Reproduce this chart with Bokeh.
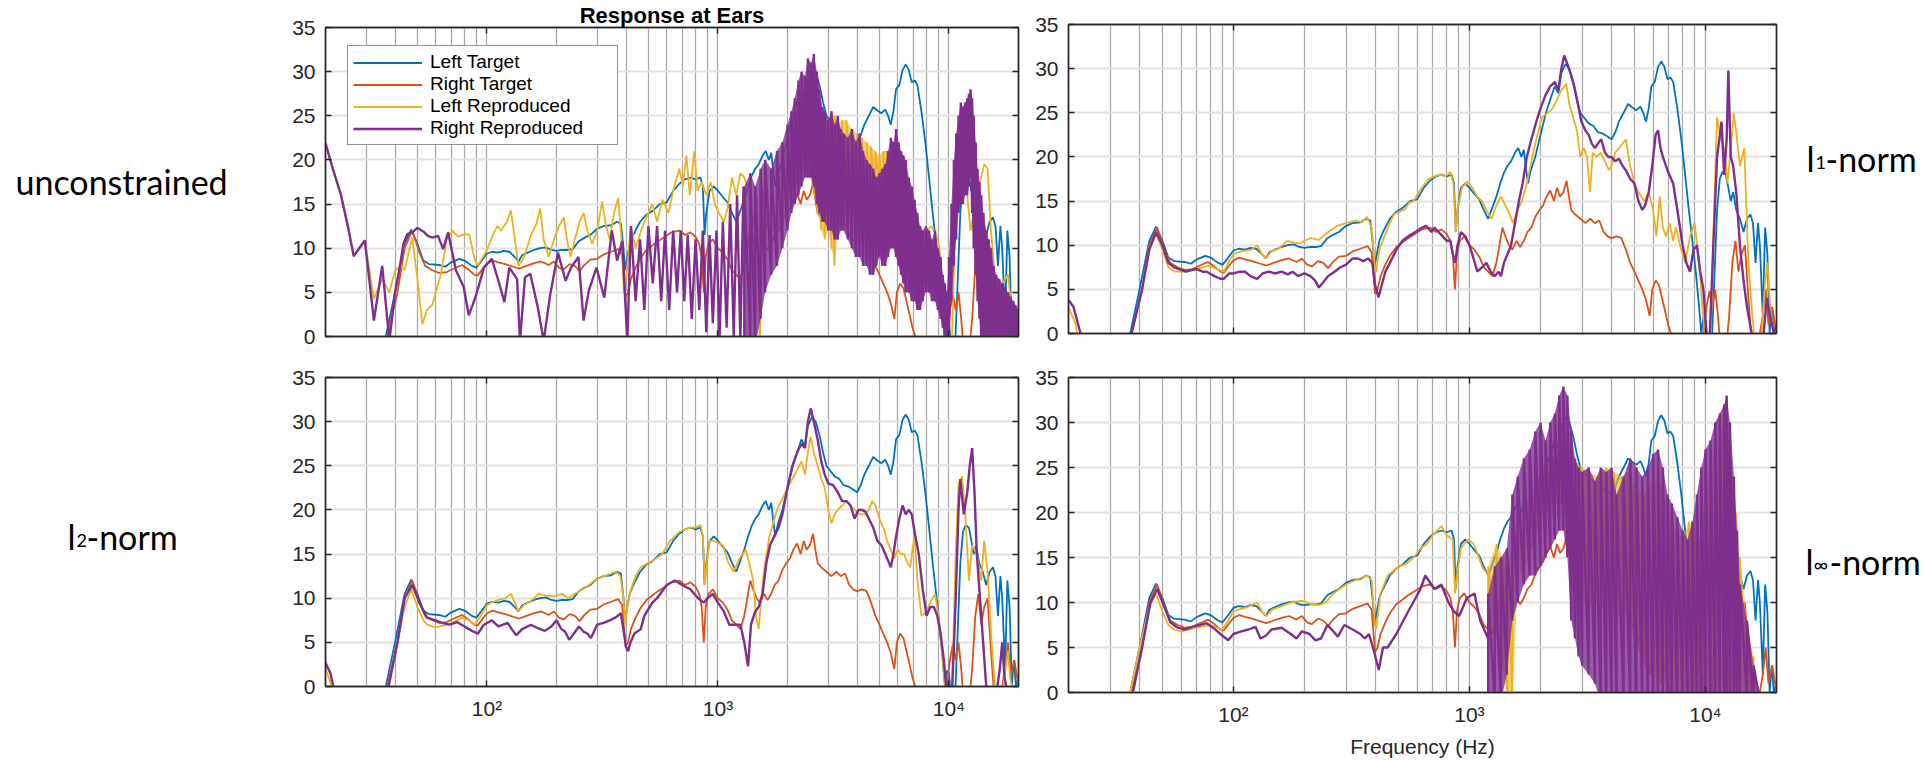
from bokeh.plotting import figure
from bokeh.models import Range1d, FixedTicker, LinearAxis, LogAxis, Label, Legend, LegendItem
from bokeh.layouts import column, row
from bokeh.embed import file_html
from bokeh.resources import INLINE

# ---------------- data (frequency Hz, level dB) ----------------
X_TICKS = [100, 1000, 10000]
X_TICK_LABELS = {100: "10\u00b2", 1000: "10\u00b3", 10000: "10\u2074"}
X_GRID = [30, 40, 50, 60, 70, 80, 90, 100, 200, 300, 400, 500, 600, 700, 800, 900,
          1000, 2000, 3000, 4000, 5000, 6000, 7000, 8000, 9000, 10000]
Y_TICKS = [0, 5, 10, 15, 20, 25, 30, 35]
Y_GRID = [5, 10, 15, 20, 25, 30]
SERIES_NAMES = ["Left Target", "Right Target", "Left Reproduced", "Right Reproduced"]
TITLE = "Response at Ears"
X_LABEL = "Frequency (Hz)"

LEFT_TARGET = [(20, -3), (34, -6), (36.5, 0), (40, 5), (44, 10.5), (47, 12.1), (50, 10.5),
    (53, 8.6), (56, 8.2), (62, 8.1), (66, 7.9), (70, 8.4), (76, 8.8), (80, 8.6), (86, 8.0), (90, 7.8), (95, 8.6),
    (100, 9.4), (105, 9.6), (112, 9.5), (118, 9.7), (125, 9.6), (132, 9.0), (137, 8.5), (142, 9.2), (150, 9.5),
    (160, 9.8), (170, 10.0), (180, 10.1), (190, 9.8), (200, 9.7), (212, 9.8), (225, 9.8), (235, 9.9), (250, 10.8),
    (265, 11.2), (280, 11.5), (300, 12.2), (320, 12.5), (345, 12.6), (365, 13.0), (380, 12.8), (390, 10), (396, 7.5),
    (402, 8.5), (415, 10.5), (430, 11.5), (460, 13.0), (490, 13.8), (520, 14.2), (560, 15.0), (600, 15.2),
    (640, 16.5), (680, 17.3), (720, 17.8), (760, 18.0), (800, 17.8), (840, 18.0), (860, 17), (875, 11.5), (890, 14),
    (920, 16.5), (960, 17.0), (1000, 16.5), (1050, 15.8), (1100, 15.2), (1150, 14.0), (1200, 13.0), (1240, 14.0),
    (1300, 15.5), (1350, 17.0), (1400, 18.2), (1450, 19.0), (1500, 19.5), (1560, 20.5), (1610, 21.0), (1660, 20.0),
    (1700, 20.8), (1740, 18.5), (1770, 17.0), (1820, 18.5), (1900, 20.0), (2000, 22.5), (2100, 24.8), (2200, 26.5),
    (2300, 28.0), (2380, 27.2), (2450, 29.5), (2550, 30.5), (2650, 30.0), (2750, 28.5), (2850, 26.5), (2950, 25.0),
    (3050, 24.5), (3200, 23.8), (3350, 23.5), (3500, 22.8), (3700, 22.6), (3900, 22.2), (4000, 22.0), (4150, 22.8),
    (4300, 24.0), (4500, 25.0), (4700, 26.0), (4900, 25.6), (5100, 25.3), (5300, 25.7), (5450, 25.0), (5600, 24.0),
    (5750, 25.5), (5900, 28.0), (6100, 28.5), (6300, 30.2), (6500, 30.8), (6700, 30.2), (6900, 28.8), (7100, 29.0),
    (7300, 28.5), (7600, 25.5), (7900, 22), (8200, 18), (8500, 14), (8800, 10.5), (9100, 7), (9400, 3), (9600, 0),
    (9800, 1.8), (10000, 1.5), (10200, -1), (10600, -2), (10900, 6), (11200, 14), (11500, 17.5), (11800, 18.3),
    (12200, 18.0), (12500, 16.5), (12800, 15.0), (13100, 16), (13500, 14.0), (14000, 13.0), (14500, 11.5),
    (15000, 13.0), (15500, 13.5), (15900, 12.5), (16300, 8), (16700, 12.5), (17000, 10), (17500, 2), (17900, 12.0),
    (18300, 9), (18700, 0), (19100, 3), (19500, 0), (20000, 1)]

RIGHT_TARGET = [(20, -3), (35, -6), (37, 0), (41, 5), (44, 10), (47.5, 12.0), (51, 9.5), (54, 8.0),
    (58, 7.5), (62, 7.2), (67, 7.3), (72, 7.7), (78, 8.1), (83, 7.6), (88, 7.0), (91, 6.9), (96, 7.7), (100, 8.3),
    (106, 8.6), (112, 8.4), (120, 8.2), (130, 7.9), (138, 7.7), (148, 8.0), (160, 8.3), (172, 8.5), (185, 8.1),
    (195, 8.5), (205, 7.8), (215, 7.6), (228, 8.2), (240, 8.0), (252, 7.4), (262, 8.0), (280, 8.7), (300, 8.8),
    (320, 9.3), (345, 9.6), (370, 9.9), (385, 9.2), (398, 4.5), (408, 5.0), (420, 6.5), (440, 7.8), (460, 8.8),
    (490, 9.8), (520, 10.3), (550, 10.8), (590, 11.3), (630, 11.8), (680, 12.0), (720, 11.5), (760, 11.8),
    (800, 11.3), (830, 10.5), (850, 9.0), (868, 5.0), (885, 9.0), (910, 10.5), (950, 11.0), (1000, 10.0),
    (1050, 9.5), (1100, 8.7), (1150, 7.5), (1200, 7.0), (1250, 6.5), (1300, 8.0), (1340, 10.0), (1380, 12.0),
    (1420, 11.0), (1470, 10.0), (1520, 9.5), (1580, 10.5), (1640, 9.8), (1700, 10.5), (1760, 11.5), (1830, 12.0),
    (1900, 13.2), (1980, 14.0), (2050, 14.5), (2120, 15.5), (2200, 16.2), (2280, 15.0), (2350, 16.5), (2420, 15.5),
    (2500, 16.0), (2580, 17.3), (2640, 15.5), (2700, 14.0), (2800, 13.5), (2950, 13.0), (3100, 12.5), (3250, 13.0),
    (3400, 12.5), (3550, 12.8), (3700, 11.5), (3850, 11.0), (4000, 10.8), (4200, 11.0), (4400, 10.8), (4600, 9.5),
    (4800, 8.0), (5000, 7.0), (5200, 6.0), (5400, 5.0), (5600, 3.8), (5800, 2.0), (5950, 5.0), (6150, 6.0),
    (6350, 5.5), (6550, 4.0), (6750, 2.5), (6950, 1.0), (7150, 0), (7350, -3), (9500, -3), (9800, 0), (10100, 3),
    (10400, 4.8), (10700, 3.0), (11000, 5.0), (11300, 2.0), (11600, -2), (12200, -2), (12600, 2), (13000, 8.0),
    (13400, 10.5), (13800, 7.0), (14200, 9), (14700, 10.0), (15200, 4.0), (15600, 0), (16500, -2), (17500, 2),
    (18000, 5), (18500, 1), (19200, 3), (20000, 0)]

# unconstrained
UC_LEFT_REPRO = [(20, 21.8), (23.3, 16.1), (26.5, 9.1), (29.6, 10.8), (32.4, 4.3), (35.2, 6.5), (37.8, 5.0), (40, 7.5),
    (42.5, 8.0), (44, 7.5), (47.5, 11.2), (50, 6.5), (52.5, 1.4), (55, 3.0), (58, 3.6), (63, 7.0), (67, 11.0),
    (71, 12.0), (75, 11.3), (80, 11.6), (84, 11.5), (88, 9.0), (91, 8.0), (96, 9.0), (100, 9.8), (106, 11.5),
    (111, 12.5), (115, 12.0), (122, 13.0), (127, 14.3), (132, 11.0), (137, 8.0), (145, 9.0), (155, 11.5),
    (164, 12.8), (170, 14.5), (176, 11.0), (185, 9.0), (195, 11.0), (205, 12.5), (215, 13.5), (222, 11.0),
    (230, 9.0), (240, 11.0), (252, 13.0), (262, 14.0), (272, 12.0), (285, 10.5), (300, 12.0), (315, 15.3),
    (328, 12.5), (340, 11.0), (355, 14.0), (370, 15.7), (382, 11.0), (392, 5.0), (402, 7.0), (420, 12.5),
    (440, 10.0), (465, 12.0), (490, 13.5), (520, 15.0), (545, 13.0), (575, 15.5), (610, 14.0), (640, 16.5),
    (680, 19.0), (705, 17.0), (730, 20.5), (755, 16.0), (790, 21.0), (815, 16.5), (850, 17.5), (890, 16.0),
    (930, 17.5), (970, 15.0), (1010, 14.0), (1060, 13.0), (1100, 14.5), (1150, 18.0), (1200, 16.0), (1250, 18.5),
    (1300, 18.0), (1360, 16.5), (1420, 12.5), (1470, 16.0), (1520, -0.5), (1560, 17.0), (1620, 12.0), (1700, 15.0),
    (1800, 13.0)]
UC_LEFT_REPRO_BAND = [(1800, 12, 17), (1900, 13, 20), (2000, 15, 22.5), (2100, 16, 24), (2200, 17, 25.5),
    (2300, 18, 26.5), (2400, 19, 28), (2500, 18, 29), (2600, 16, 27.5), (2700, 14, 26.5), (2800, 12, 26),
    (2900, 11, 25), (3000, 12, 24), (3100, 10, 25.5), (3200, 8, 25), (3300, 12, 24), (3450, 14, 24.5),
    (3600, 14, 24.5), (3800, 15, 23.5), (4000, 14, 23), (4200, 14, 22.5), (4400, 13, 22), (4600, 15, 21.5),
    (4800, 16, 21), (5000, 17, 20.5), (5200, 14, 21), (5400, 12, 21), (5600, 10, 20), (5800, 13, 19.5),
    (6000, 14, 19), (6200, 10, 18), (6400, 9, 18), (6600, 10, 17), (6800, 9, 16), (7000, 8, 15), (7200, 7.5, 13),
    (7400, 8, 12)]
UC_LEFT_REPRO_END = [(7400, 10), (7700, 11.5), (8000, 12.0), (8400, 12.5), (8800, 11.5), (9100, 10.0), (9400, 5.0),
    (9700, -0.5), (10300, -0.5), (10700, 15), (11000, 22), (11300, 25.5), (11600, 23), (12000, 16), (12400, 12),
    (12800, 14), (13500, 17), (14200, 19.5), (14700, 19), (15200, 12), (16000, 5), (17000, 6), (18000, 7),
    (18700, 3), (19500, -0.5), (20000, 1)]
UC_RIGHT_REPRO = [(20, 21.9), (21.5, 19.0), (23.3, 16.1), (25, 12.5), (26.5, 9.1), (28, 10.0), (29.6, 10.9),
    (32.4, 1.8), (35.2, 8.0), (37.8, -0.5), (40, 5.0), (41.9, 7.8), (43.5, 10.5), (45.2, 11.6), (47.5, 11.8),
    (50, 12.3), (53, 11.9), (55.5, 11.4), (58, 11.2), (61.4, 11.4), (64.6, 9.9), (67.9, 11.8), (73.4, 7.5),
    (79.3, 5.6), (83.4, 2.4), (86.5, 3.5), (90, 4.8), (97, 7.8), (105, 8.8), (113, 6.0), (119, 3.9), (125, 7.8),
    (135, 6.5), (139, -0.5), (146, 6.7), (154, 7.1), (166, 3.3), (176, -0.5), (188, 4.8), (203, 9.5), (219, 6.3),
    (231, 7.8), (249, 9.0), (262, 1.8), (276, 5.2), (298, 7.8), (322, 4.4), (347, 12.0), (366, 8.6), (385, 10.8),
    (405, -0.5), (420, 12.5), (440, 4.0), (460, 11.0), (480, 3.0), (500, 12.5), (522, 6.0), (545, 12.5), (568, 4.0),
    (590, 12.0), (615, 3.0), (640, 12.0), (665, 5.0), (690, 12.0), (715, 4.0), (740, 11.5), (770, 2.0), (800, 11.0),
    (830, 3.0), (860, 12.0), (890, 0.5), (920, 11.5), (950, 1.5), (985, 12.0), (1015, -0.5), (1050, 13.0),
    (1090, 1.0), (1130, 15.0), (1170, 0.0), (1210, 16.0), (1250, -0.5), (1290, 17.0)]
UC_RIGHT_REPRO_BAND = [(1300, -1, 17), (1380, 0, 18.5), (1450, -1, 17), (1530, 2, 19), (1600, 5, 20), (1700, 7, 19),
    (1800, 8, 21), (1900, 10, 22), (2000, 12, 24), (2080, 14, 25.5), (2150, 15, 27), (2230, 16, 29), (2300, 17, 30),
    (2380, 18, 29.5), (2450, 18, 31.5), (2530, 18, 31), (2600, 17, 32), (2680, 15, 30), (2750, 14, 28),
    (2830, 13, 26), (2900, 13, 25.5), (3000, 12, 24.5), (3100, 12, 25.5), (3200, 11, 24), (3300, 11, 25),
    (3400, 12, 23.5), (3500, 12, 23), (3650, 11, 22.5), (3800, 10, 23.5), (3950, 9, 22), (4100, 9, 23),
    (4250, 8, 21), (4400, 8, 20), (4550, 7, 19.5), (4700, 7, 19), (4850, 8, 18), (5000, 9, 18.5), (5150, 8, 19),
    (5300, 8, 19.5), (5450, 9, 21), (5600, 10, 22.5), (5750, 10, 22), (5900, 9, 23.5), (6050, 8, 22),
    (6200, 7, 21), (6350, 6, 20.5), (6500, 5, 20), (6700, 5, 18), (6900, 4, 17), (7100, 4, 15.5), (7300, 3, 14),
    (7500, 3, 12.5), (7700, 4, 12), (7950, 5, 12.5), (8200, 5, 12), (8450, 4, 11), (8700, 4, 12), (8950, 3, 10),
    (9200, 2, 9), (9400, 1, 7), (9600, -1, 6), (9800, -1, 5), (10000, -1, 9), (10250, 4, 15), (10500, 8, 20),
    (10750, 11, 23), (11000, 14, 25), (11250, 15, 26.5), (11500, 15, 26), (11750, 16, 26.5), (12000, 16, 27),
    (12200, 17, 27.5), (12400, 18, 28), (12600, 14, 27), (12800, 10, 25), (13050, 7, 22), (13300, 4, 19),
    (13550, 2, 17.5), (13800, -1, 16), (14100, -1, 14), (14500, -1, 12), (14850, -1, 11), (15200, -1, 10),
    (15600, -1, 8), (16000, -1, 7), (16500, -1, 6.5), (17000, -1, 6), (17500, -1, 5.5), (18000, -1, 5),
    (18500, -1, 4.5), (19000, -1, 4), (19500, -1, 3.5), (20000, -1, 3)]

# l1-norm
L1_LEFT_REPRO = [(20, 3.0), (21.5, 1.0), (22.5, -3), (35, -3), (37, 0), (41, 5), (44, 9.5), (47, 11.3), (50, 9.5),
    (53, 7.5), (56.5, 7.0), (62, 7.0), (68, 7.2), (74, 7.5), (79, 7.7), (85, 7.3), (91, 7.0), (96, 8.2), (100, 9.0),
    (108, 9.3), (119, 9.5), (126, 10.0), (132, 9.0), (137, 8.5), (145, 9.3), (155, 9.6), (169, 10.5), (180, 10.3),
    (192, 10.2), (200, 10.5), (212, 10.8), (230, 10.6), (252, 11.5), (275, 12.2), (300, 12.5), (330, 12.8),
    (350, 12.6), (368, 13.2), (385, 12.0), (396, 8.0), (402, 7.0), (415, 9.5), (436, 11.0), (460, 12.5),
    (479, 13.5), (505, 13.8), (530, 14.0), (555, 14.8), (580, 15.0), (610, 16.0), (640, 16.8), (670, 17.5),
    (710, 17.8), (750, 18.0), (790, 17.8), (830, 18.3), (855, 17.0), (875, 11.5), (890, 14.0), (930, 16.5),
    (980, 17.2), (1030, 16.5), (1080, 15.5), (1130, 15.0), (1180, 14.0), (1240, 13.0), (1300, 14.5), (1360, 15.5),
    (1420, 14.5), (1480, 13.5), (1530, 12.5), (1600, 14.0), (1670, 15.0), (1750, 17.0), (1830, 19.5), (1920, 22.0),
    (2030, 24.5), (2150, 25.0), (2250, 25.5), (2350, 26.5), (2450, 27.5), (2570, 28.3), (2650, 26.0), (2750, 24.5),
    (2850, 23.0), (2950, 20.0), (3050, 21.0), (3150, 20.0), (3240, 16.0), (3330, 20.5), (3450, 20.0), (3600, 20.5),
    (3750, 19.5), (3900, 18.5), (4000, 19.0), (4150, 20.5), (4300, 21.0), (4450, 21.5), (4600, 22.0), (4750, 19.5),
    (5000, 17.0), (5200, 16.0), (5500, 15.0), (5750, 16.0), (6000, 14.0), (6200, 11.0), (6400, 15.5), (6600, 12.0),
    (6800, 11.0), (7050, 12.5), (7300, 10.5), (7500, 12.0), (7800, 10.0), (8200, 8.0), (8600, 11.0), (9000, 12.5),
    (9400, 8.0), (9700, 3.0), (10000, -1), (10500, -1), (10900, 15), (11200, 24.5), (11600, 22.0), (12000, 21.0),
    (12400, 17.0), (12800, 21.0), (13200, 25.0), (13600, 22.0), (14000, 19.0), (14600, 21.0), (15200, 8.0),
    (15800, 2.0), (16200, -1), (17200, -1), (17800, 5), (18300, 8), (18800, 3), (19500, 0), (20000, 1)]
L1_RIGHT_REPRO = [(20, 3.8), (21, 3.0), (22.5, 0), (23.5, -3), (35, -3), (37, 0), (41, 5), (44, 9.5), (47, 11.5),
    (50, 10.0), (53, 8.0), (56, 7.5), (60, 7.2), (63, 7.0), (67, 7.2), (70, 7.3), (74, 7.0), (77, 7.0), (83, 6.5),
    (88, 6.2), (91, 6.2), (96, 6.8), (100, 6.8), (106, 7.0), (112, 7.0), (118, 6.5), (126, 6.2), (133, 6.8),
    (141, 7.0), (150, 6.8), (160, 7.0), (170, 6.7), (178, 7.0), (188, 6.5), (200, 6.8), (212, 6.5), (222, 6.0),
    (230, 5.2), (240, 5.8), (252, 6.5), (268, 7.0), (284, 7.5), (300, 7.8), (320, 8.5), (337, 8.5), (355, 8.2),
    (372, 8.5), (388, 8.0), (398, 5.5), (412, 4.1), (425, 5.5), (440, 7.0), (460, 8.0), (490, 9.5), (520, 10.5),
    (550, 11.0), (590, 11.5), (630, 12.0), (655, 12.2), (690, 11.5), (710, 12.0), (740, 11.5), (770, 11.0),
    (800, 10.5), (830, 10.5), (850, 9.0), (870, 8.0), (890, 10.0), (920, 11.5), (960, 11.0), (1000, 10.0),
    (1040, 8.5), (1080, 7.0), (1130, 7.5), (1180, 8.0), (1230, 7.0), (1280, 6.5), (1330, 7.0), (1360, 6.5),
    (1400, 8.0), (1450, 9.0), (1500, 10.0), (1560, 12.5), (1620, 15.0), (1680, 17.0), (1750, 20.0), (1830, 22.0),
    (1920, 24.0), (2000, 25.5), (2100, 27.0), (2200, 28.0), (2300, 28.5), (2380, 27.5), (2450, 30.0), (2520, 31.5),
    (2600, 30.5), (2680, 29.5), (2780, 28.0), (2880, 26.0), (2980, 24.0), (3100, 23.0), (3200, 22.5), (3300, 21.5),
    (3400, 21.0), (3500, 21.5), (3620, 22.0), (3750, 20.5), (3880, 20.0), (4000, 20.0), (4150, 19.5), (4300, 19.8),
    (4450, 19.0), (4600, 18.5), (4800, 17.5), (5000, 17.0), (5200, 15.0), (5400, 14.0), (5550, 14.5), (5750, 16.0),
    (5950, 19.0), (6150, 22.5), (6300, 23.0), (6450, 21.0), (6600, 20.0), (6900, 18.5), (7300, 17.0), (7700, 13.0),
    (8000, 10.0), (8300, 8.0), (8600, 7.0), (8900, 9.5), (9200, 10.0), (9500, 7.0), (9800, 5.0), (10100, 0),
    (10400, -1), (10800, 10), (11200, 20), (11700, 24.0), (12000, 18.0), (12300, 22), (12500, 29.8), (12800, 20.0),
    (13100, 19.0), (13500, 16.0), (14000, 10.0), (14500, 6.0), (15000, 3.0), (15700, 0), (16500, -1), (17500, -1),
    (18200, 4), (18800, 2), (19500, 0), (20000, 1)]

# l2-norm
L2_LEFT_REPRO = [(20, 2.0), (21, 0.5), (22, -3), (35, -3), (37.5, 0), (41, 5), (44, 9.0), (47, 11.0), (50, 9.0),
    (53, 7.5), (55, 7.0), (60, 6.7), (67.5, 7.0), (72, 7.3), (78, 7.8), (83, 7.5), (88.5, 7.0), (94, 8.0),
    (100, 9.2), (104, 9.5), (112, 9.8), (120, 10.0), (127, 10.5), (132, 9.5), (137, 8.5), (144, 9.2), (151, 9.5),
    (160, 10.0), (167, 10.5), (180, 10.3), (195, 10.2), (211, 10.5), (225, 10.0), (240, 10.5), (260, 11.0),
    (293, 12.0), (320, 12.5), (345, 12.8), (360, 13.0), (378, 12.5), (390, 10), (396, 7.0), (405, 9.0),
    (420, 11.0), (440, 12.5), (463, 13.5), (500, 14.0), (540, 14.5), (574, 15.0), (620, 16.5), (680, 17.5),
    (720, 17.8), (760, 18.0), (800, 18.0), (840, 18.3), (860, 17.0), (878, 11.5), (895, 14.0), (920, 16.5),
    (950, 16.5), (1000, 16.3), (1050, 16.0), (1110, 14.0), (1170, 13.0), (1240, 14.5), (1320, 15.5), (1380, 13.5),
    (1420, 12.0), (1460, 8.0), (1500, 6.5), (1540, 10), (1580, 13.0), (1670, 17.0), (1800, 20.0), (1920, 21.5),
    (2000, 22.5), (2100, 23.5), (2200, 24.5), (2300, 25.5), (2380, 24.0), (2450, 26.5), (2520, 28.3), (2600, 26.5),
    (2700, 25.0), (2800, 23.5), (2900, 22.5), (3000, 20.0), (3100, 18.5), (3200, 19.5), (3300, 20.0), (3450, 20.5),
    (3600, 21.0), (3750, 20.5), (3900, 20.0), (4100, 19.5), (4300, 19.5), (4500, 20.0), (4650, 21.0), (4800, 20.5),
    (5000, 19.0), (5200, 18.0), (5400, 16.5), (5600, 15.5), (5800, 14.5), (6000, 15.5), (6200, 15.0), (6400, 15.0),
    (6600, 14.0), (6800, 13.5), (6950, 15.5), (7100, 17.0), (7300, 12), (7600, 8), (8000, 8.5), (8300, 9.5),
    (8700, 10.5), (9000, 8), (9400, 3.0), (9700, -1), (10300, -1), (10700, 15), (11000, 23.0), (11400, 23.8),
    (11800, 19), (12200, 12), (12600, 16), (13200, 15), (13800, 12), (14200, 16.5), (14700, 13), (15300, 5),
    (15900, -1), (17000, -1), (17600, 2), (18000, 4), (18400, 1), (19000, -1), (20000, 0)]
L2_RIGHT_REPRO = [(20, 2.7), (21, 1.5), (22.5, -2), (35, -2), (37.5, 0), (41, 5), (44, 10), (47.5, 11.5), (51, 9.5),
    (55, 7.8), (60, 7.5), (64, 7.2), (69, 7.0), (74, 7.3), (80, 6.8), (86, 6.3), (91.5, 6.0), (97, 7.0), (105, 7.5),
    (112, 6.8), (123, 7.2), (128, 6.5), (134, 5.8), (142, 6.5), (155, 7.0), (166, 6.6), (178, 6.3), (190, 6.8),
    (200, 7.5), (210, 6.5), (218, 6.2), (227, 5.3), (238, 6.0), (250, 6.8), (262, 6.2), (272, 6.0), (282, 5.5),
    (300, 7.0), (320, 7.2), (340, 7.5), (360, 7.8), (380, 8.3), (392, 6.0), (400, 4.5), (408, 4.0), (418, 5.0),
    (435, 6.0), (463, 6.5), (480, 8.0), (520, 9.5), (545, 10.0), (600, 11.5), (650, 12.0), (700, 11.5), (760, 11.0),
    (820, 10.0), (870, 9.5), (900, 10.0), (950, 10.5), (1000, 9.5), (1060, 8.5), (1120, 7.0), (1190, 7.0),
    (1250, 7.0), (1300, 5.0), (1350, 2.3), (1390, 7.0), (1450, 8.5), (1500, 9.0), (1560, 10.5), (1620, 14.0),
    (1680, 16.0), (1750, 17.0), (1830, 18.0), (1900, 19.5), (2000, 22.5), (2100, 25.0), (2200, 26.5), (2300, 27.5),
    (2380, 27.0), (2450, 30.0), (2520, 31.5), (2600, 30.0), (2700, 28.0), (2800, 25.5), (2900, 24.0), (3000, 23.0),
    (3150, 22.8), (3300, 22.0), (3450, 21.0), (3600, 21.0), (3750, 20.5), (3900, 19.0), (4050, 20.0), (4200, 20.0),
    (4350, 19.8), (4500, 19.0), (4700, 18.0), (4900, 16.5), (5100, 16.0), (5300, 15.0), (5500, 14.0), (5600, 13.5),
    (5750, 15.0), (5900, 17.0), (6100, 19.0), (6300, 20.5), (6500, 19.5), (6700, 20.0), (6900, 19.5), (7100, 17.5),
    (7400, 15.0), (7700, 11.0), (8000, 8.0), (8300, 9.0), (8600, 9.0), (8900, 8.0), (9200, 6.0), (9500, 3.0),
    (9800, -1), (10300, -1), (10700, 10), (11000, 20.0), (11200, 23.5), (11600, 19.5), (12000, 22.0), (12300, 25.0),
    (12600, 27.0), (12900, 22.0), (13200, 15.0), (13800, 8.0), (14500, 0), (15000, -1), (16000, -1), (16600, 2),
    (17000, 5.0), (17400, 1), (18000, -1), (20000, -1)]

# linf-norm
LI_LEFT_REPRO = [(20, -3), (35.5, -3), (36.5, 0), (40, 5), (44, 9.5), (47, 11.0), (50, 9.0), (53, 7.5), (56, 7.0),
    (60, 6.8), (65, 7.0), (72, 7.3), (80, 7.5), (85, 7.2), (90, 7.0), (95, 8.0), (100, 9.0), (108, 9.3), (115, 9.5),
    (126, 10.0), (132, 9.0), (138, 8.5), (146, 9.2), (160, 9.6), (175, 10.0), (195, 10.2), (215, 9.8), (230, 9.7),
    (246, 10.0), (265, 11.0), (300, 12.0), (330, 12.5), (368, 13.0), (385, 12.5), (396, 8.0), (402, 7.0),
    (420, 11.0), (450, 13.0), (500, 14.0), (540, 14.3), (580, 15.0), (620, 16.0), (660, 16.5), (700, 17.5),
    (760, 18.5), (800, 17.5), (850, 17.0), (868, 11.0), (885, 13.0), (920, 16.0), (950, 16.5), (990, 17.0),
    (1040, 16.5), (1080, 15.5), (1130, 14.0), (1200, 13.0)]
LI_LEFT_REPRO_BAND = [(1200, 8, 14), (1300, 6, 16.5), (1380, 3, 15), (1450, -1, 14), (1520, -1, 16), (1600, 12, 19),
    (1700, 14, 20), (1800, 15, 21.5), (1900, 17, 23), (2000, 19, 24.5), (2100, 20, 25.5), (2250, 21, 26),
    (2400, 21, 27), (2550, 20, 28.5), (2700, 15, 27), (2850, 12, 25.5), (3000, 10, 25), (3200, 9.5, 24.5),
    (3500, 10, 24), (3800, 9, 25), (4100, 10, 24.5), (4400, 8, 24), (4700, 9, 24.5), (5000, 6, 23), (5500, 3, 22),
    (6000, 2, 24), (6500, 1, 23), (7000, 1, 20), (7500, -1, 18), (8000, -1, 17), (8500, -1, 19), (9000, -1, 18),
    (9500, -1, 17), (10000, -1, 22), (10500, -1, 25), (11000, -1, 27), (11500, -1, 29), (12000, -1, 30),
    (12500, -1, 28), (13000, -1, 24), (13500, -1, 20), (14000, -1, 15), (15000, -1, 8), (16000, -1, 4)]
LI_RIGHT_REPRO = [(20, -3), (36, -3), (37.5, 0), (41, 5), (44.5, 10), (47.5, 11.5), (51, 9.5), (54, 7.8), (58, 7.2),
    (62, 7.0), (67, 7.3), (72, 7.5), (77, 7.7), (82, 7.2), (88, 6.5), (95, 5.8), (100, 6.5), (108, 6.8), (116, 7.0),
    (124, 7.3), (130, 6.0), (137, 6.3), (145, 7.0), (160, 7.2), (175, 6.5), (185, 6.0), (195, 6.8), (210, 6.5),
    (222, 5.8), (235, 6.0), (250, 7.5), (265, 6.8), (277, 6.2), (295, 7.5), (320, 7.0), (345, 6.5), (360, 6.0),
    (375, 6.5), (390, 5.0), (413, 2.5), (430, 5.0), (450, 5.0), (490, 6.5), (550, 9.0), (620, 11.5), (650, 13.0),
    (710, 11.5), (760, 12.0), (815, 10.0), (860, 9.0), (905, 8.5), (975, 10.5), (1050, 11.0), (1110, 8.0),
    (1200, 6.0)]
LI_RIGHT_REPRO_BAND = [(1200, -1, 11), (1280, -1, 14), (1360, -1, 15), (1440, 2, 16), (1520, 8, 22), (1600, 10, 24),
    (1700, 12, 26), (1800, 13, 27), (1900, 13, 29), (2000, 14, 30), (2100, 15, 28), (2200, 16, 30), (2300, 17, 31),
    (2400, 18, 33), (2500, 18, 34), (2600, 15, 33), (2700, 8, 29), (2800, 6, 26), (2900, 4, 25), (3000, 3, 24.5),
    (3200, 2, 25), (3400, 1, 23.5), (3600, -1, 25), (3800, -1, 24.5), (4000, -1, 25), (4200, -1, 22), (4500, -1, 24),
    (4800, -1, 26), (5100, -1, 25), (5400, -1, 24), (5700, -1, 25), (6000, -1, 26.5), (6300, -1, 27), (6600, -1, 25),
    (6900, -1, 22), (7200, -1, 21), (7600, -1, 19.5), (8000, -1, 18), (8400, -1, 17), (8800, -1, 19), (9200, -1, 22),
    (9600, -1, 25), (10000, -1, 27), (10500, -1, 28), (11000, -1, 30), (11500, -1, 31), (12000, -1, 32),
    (12300, -1, 33), (12700, -1, 30), (13200, -1, 24), (13600, -1, 18), (14000, -1, 12), (15000, -1, 8),
    (16000, -1, 3), (17000, -1, 0)]

# ---------------- styling ----------------
BLUE, ORANGE, YELLOW, PURPLE = "#0072BD", "#D95319", "#EDB120", "#7E2F8E"
AX = "#262626"
LW, PW = 1.8, 2.4


def xs(pairs):
    return [p[0] for p in pairs]


def ys(pairs):
    return [p[1] for p in pairs]


def style_axis(ax, labels, ticks):
    ax.axis_line_color = AX
    ax.axis_line_width = 1.4
    ax.major_tick_line_color = AX
    ax.major_tick_line_width = 1.4
    ax.major_tick_in = 6
    ax.major_tick_out = 0
    ax.minor_tick_line_color = None
    ax.major_label_text_font = "Liberation Sans"
    ax.major_label_text_color = AX
    if labels is None:
        ax.major_label_overrides = {t: "" for t in ticks}
        ax.major_label_text_font_size = "0px"
        ax.major_label_standoff = 0
    else:
        if labels:
            ax.major_label_overrides = labels
        ax.major_label_text_font_size = "21px"
        ax.major_label_standoff = 10


def panel(width, height, left, right, top, bottom, show_x):
    p = figure(width=width, height=height, x_axis_type="log",
               x_range=Range1d(20, 20000), y_range=Range1d(0, 35),
               output_backend="svg", toolbar_location=None,
               min_border_left=left, min_border_right=right,
               min_border_top=top, min_border_bottom=bottom)
    p.outline_line_color = AX
    p.outline_line_width = 1.4
    p.xaxis.ticker = FixedTicker(ticks=X_TICKS)
    p.yaxis.ticker = FixedTicker(ticks=Y_TICKS)
    style_axis(p.xaxis[0], X_TICK_LABELS if show_x else None, X_TICKS)
    style_axis(p.yaxis[0], {}, Y_TICKS)
    ra = LinearAxis(ticker=FixedTicker(ticks=Y_TICKS))
    style_axis(ra, None, Y_TICKS)
    p.add_layout(ra, "right")
    ta = LogAxis(ticker=FixedTicker(ticks=X_TICKS))
    style_axis(ta, None, X_TICKS)
    p.add_layout(ta, "above")
    p.xgrid.ticker = FixedTicker(ticks=X_GRID)
    p.xgrid.grid_line_color = "#a9a9a9"
    p.xgrid.grid_line_width = 1.3
    p.ygrid.ticker = FixedTicker(ticks=Y_GRID)
    p.ygrid.grid_line_color = "#e2e2e2"
    p.ygrid.grid_line_width = 2
    return p


def blank(width, height):
    p = figure(width=width, height=height, x_range=Range1d(0, 1), y_range=Range1d(0, 1),
               output_backend="svg", toolbar_location=None,
               x_axis_location=None, y_axis_location=None,
               min_border_left=0, min_border_right=0, min_border_top=0, min_border_bottom=0)
    p.grid.visible = False
    p.outline_line_color = None
    return p


def line(p, pairs, color, w=LW):
    return p.line(xs(pairs), ys(pairs), line_color=color, line_width=w)


def dense(p, triples, color, w, fill_alpha):
    # dense oscillation: envelope area plus one stroke from lower to upper envelope at every read frequency
    f = [t[0] for t in triples]
    lo = [t[1] for t in triples]
    hi = [t[2] for t in triples]
    p.varea(x=f, y1=lo, y2=hi, fill_color=color, fill_alpha=fill_alpha)
    fx, fy = [], []
    for a, b, c in triples:
        fx += [a, a]
        fy += [b, c]
    return p.line(fx, fy, line_color=color, line_width=w, line_join="miter")


def text(p, x, y, s, size, font="Lato", style="normal", align="left", color="#000000"):
    p.add_layout(Label(x=x, y=y, x_units="screen", y_units="screen", text=s,
                       text_font=font, text_font_size=f"{size}px", text_font_style=style,
                       text_color=color, text_align=align, text_baseline="alphabetic"))


# top-left: unconstrained
tl = panel(743, 355, 45, 5, 27, 19, False)
tl.title.text = TITLE
tl.title.align = "center"
tl.title.text_font = "Liberation Sans"
tl.title.text_font_size = "22px"
tl.title.text_font_style = "bold"
tl.title.text_color = "#000000"
tl.title.standoff = 0
rb = line(tl, LEFT_TARGET, BLUE)
ro = line(tl, RIGHT_TARGET, ORANGE)
ry = line(tl, UC_LEFT_REPRO, YELLOW)
dense(tl, UC_LEFT_REPRO_BAND, YELLOW, LW, 0.6)
line(tl, UC_LEFT_REPRO_END, YELLOW)
rp = line(tl, UC_RIGHT_REPRO, PURPLE, PW)
dense(tl, UC_RIGHT_REPRO_BAND, PURPLE, PW, 0.8)
legend = Legend(items=[LegendItem(label=SERIES_NAMES[0], renderers=[rb]),
                       LegendItem(label=SERIES_NAMES[1], renderers=[ro]),
                       LegendItem(label=SERIES_NAMES[2], renderers=[ry]),
                       LegendItem(label=SERIES_NAMES[3], renderers=[rp])],
                location=(22, 191), orientation="vertical")
legend.label_text_font = "Liberation Sans"
legend.label_text_font_size = "19px"
legend.label_text_color = "#000000"
legend.glyph_width = 69
legend.glyph_height = 21
legend.label_height = 21
legend.label_width = 182
legend.label_standoff = 8
legend.spacing = 0
legend.padding = 5
legend.margin = 0
legend.border_line_color = AX
legend.border_line_width = 1.4
legend.background_fill_alpha = 1.0
tl.add_layout(legend)

# top-right: l1-norm
tr = panel(757, 355, 45, 4, 24, 22, False)
line(tr, LEFT_TARGET, BLUE)
line(tr, RIGHT_TARGET, ORANGE)
line(tr, L1_LEFT_REPRO, YELLOW)
line(tr, L1_RIGHT_REPRO, PURPLE, PW)

# bottom-left: l2-norm
bl = panel(743, 406, 45, 5, 22, 75, True)
line(bl, LEFT_TARGET, BLUE)
line(bl, RIGHT_TARGET, ORANGE)
line(bl, L2_LEFT_REPRO, YELLOW)
line(bl, L2_RIGHT_REPRO, PURPLE, PW)

# bottom-right: linf-norm
br = panel(757, 406, 45, 4, 22, 69, True)
line(br, LEFT_TARGET, BLUE)
line(br, RIGHT_TARGET, ORANGE)
line(br, LI_LEFT_REPRO, YELLOW)
dense(br, LI_LEFT_REPRO_BAND, YELLOW, LW, 0.6)
line(br, LI_RIGHT_REPRO, PURPLE, PW)
dense(br, LI_RIGHT_REPRO_BAND, PURPLE, PW, 0.8)
ax = br.below[0]
ax.axis_label = X_LABEL
ax.axis_label_text_font = "Liberation Sans"
ax.axis_label_text_font_size = "21px"
ax.axis_label_text_font_style = "normal"
ax.axis_label_text_color = AX
ax.axis_label_standoff = 6

# side labels
la1 = blank(280, 355)
text(la1, 15, 174, "unconstrained", 34)
la2 = blank(280, 406)
text(la2, 67, 225, "l", 34)
text(la2, 76, 221, "2", 18)
text(la2, 86, 225, "-norm", 34)
ld1 = blank(143, 355)
text(ld1, 26, 197, "l", 34)
text(ld1, 35, 193, "1", 18)
text(ld1, 45, 197, "-norm", 34)
ld2 = blank(143, 406)
text(ld2, 25, 200, "l", 34)
text(ld2, 33, 198, "\u221e", 20)
text(ld2, 49, 200, "-norm", 34)

layout = row(column(la1, la2),
             column(tl, bl),
             column(tr, br),
             column(ld1, ld2))
open("out.html", "w").write(file_html(layout, INLINE))
